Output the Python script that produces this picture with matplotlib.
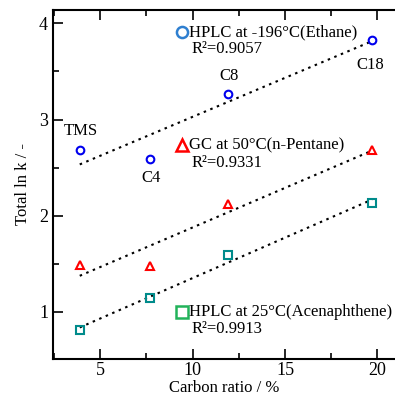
import numpy as np
import matplotlib
matplotlib.use("Agg")
import matplotlib.pyplot as plt
from matplotlib.ticker import MultipleLocator

plt.rcParams['font.family'] = ['Liberation Serif', 'DejaVu Serif']

carbon = [3.9, 7.7, 11.9, 19.7]
labels = ["TMS", "C4", "C8", "C18"]
hplc_ethane = [2.68, 2.59, 3.27, 3.83]
gc_pentane = [1.49, 1.475, 2.125, 2.68]
hplc_acen = [0.81, 1.14, 1.59, 2.13]

series_names = ["HPLC at -196°C(Ethane)", "GC at 50°C(n-Pentane)", "HPLC at 25°C(Acenaphthene)"]
r2_texts = ["R²=0.9057", "R²=0.9331", "R²=0.9913"]

fig = plt.figure(figsize=(3.95, 3.97), dpi=100)
ax = fig.add_axes([0.134, 0.096, 0.866, 0.879])

x = np.array(carbon)
series = [hplc_ethane, gc_pentane, hplc_acen]
markers = ['o', '^', 's']
mcolors = ['#0000ee', '#ff0000', '#008b8b']
for ys, m, c in zip(series, markers, mcolors):
    ys = np.array(ys)
    p = np.polyfit(x, ys, 1)
    ax.plot([x[0], x[-1]], np.polyval(p, [x[0], x[-1]]), ls=(0, (1.2, 2.2)), color='black', lw=1.5, zorder=2)
    ax.plot(x, ys, ls='none', marker=m, ms=5.5, mfc='none', mec=c, mew=1.5, zorder=3)

# point labels
ax.text(3.97, 2.88, labels[0], ha='center', va='center', fontsize=12)
ax.text(7.75, 2.39, labels[1], ha='center', va='center', fontsize=12)
ax.text(11.95, 3.45, labels[2], ha='center', va='center', fontsize=12)
ax.text(19.6, 3.57, labels[3], ha='center', va='center', fontsize=12)

# legend-like annotations
lx = 9.42
bigc = ['#2e7fd0', '#ff0000', '#22b35a']
ly = [3.91, 2.73, 1.0]
for name, r2, y0, m, c in zip(series_names, r2_texts, ly, markers, bigc):
    ax.plot([lx], [y0], ls='none', marker=m, ms=8, mfc='none', mec=c, mew=1.8, zorder=3)
    ax.text(lx + 0.4, y0, name, ha='left', va='center', fontsize=12)
    ax.text(lx + 0.55, y0 - 0.18, r2, ha='left', va='center', fontsize=12)

ax.set_xlim(2.45, 20.95)
ax.set_ylim(0.51, 4.14)
ax.xaxis.set_major_locator(MultipleLocator(5))
ax.xaxis.set_minor_locator(MultipleLocator(2.5))
ax.yaxis.set_major_locator(MultipleLocator(1))
ax.yaxis.set_minor_locator(MultipleLocator(0.5))
ax.tick_params(which='both', direction='in', top=True, right=False, labelsize=13, width=1.2)
ax.tick_params(which='major', length=7)
ax.tick_params(which='minor', length=4)
ax.tick_params(axis='x', pad=2)
ax.spines['right'].set_visible(False)
for s in ['left', 'bottom', 'top']:
    ax.spines[s].set_linewidth(1.5)

ax.set_xlabel("Carbon ratio / %", fontsize=12, labelpad=1)
ax.set_ylabel("Total ln k / -", fontsize=12, labelpad=6)

fig.savefig("out.png", dpi=100)
